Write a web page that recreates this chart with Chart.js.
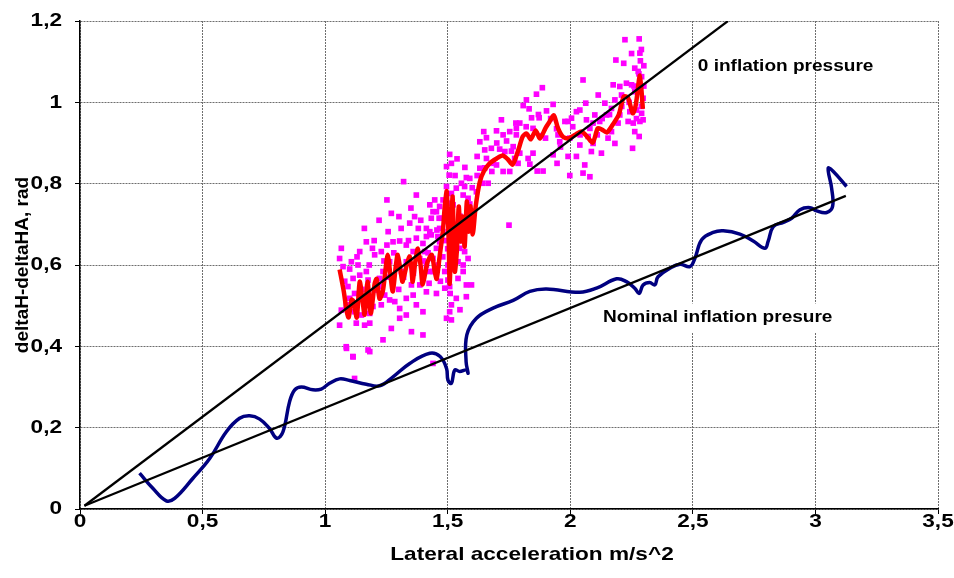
<!DOCTYPE html>
<html>
<head>
<meta charset="utf-8">
<script src="https://cdn.jsdelivr.net/npm/chart.js@4.4.1/dist/chart.umd.min.js"></script>
<style>
  html, body { margin: 0; padding: 0; background: #fff; }
  #wrap { width: 954px; height: 578px; }
</style>
</head>
<body>
<div id="wrap"><canvas id="chart" width="954" height="578"></canvas></div>
<script>
// 坐标刻度
const xTicks = [0, 0.5, 1, 1.5, 2, 2.5, 3, 3.5];
const yTicks = [0, 0.2, 0.4, 0.6, 0.8, 1, 1.2];

// 两条参考直线 (起点, 终点)
const zeroPressureLine = [[0.018, 0.008], [2.643, 1.2]];
const nominalLine = [[0.018, 0.008], [3.124, 0.77]];

// 额定气压下的测量曲线
const nominalCurve = [
  [0.243, 0.088], [0.297, 0.051], [0.352, 0.020], [0.386, 0.026], [0.460, 0.075],
  [0.529, 0.124], [0.597, 0.190], [0.651, 0.223], [0.692, 0.229], [0.733, 0.221],
  [0.773, 0.198], [0.803, 0.174], [0.828, 0.190], [0.855, 0.264], [0.876, 0.293],
  [0.903, 0.300], [0.950, 0.293], [0.984, 0.295], [1.018, 0.309], [1.059, 0.320],
  [1.100, 0.316], [1.168, 0.307], [1.222, 0.303], [1.277, 0.325], [1.345, 0.358],
  [1.427, 0.383], [1.469, 0.375], [1.495, 0.346], [1.501, 0.317], [1.515, 0.309],
  [1.529, 0.342], [1.549, 0.338], [1.576, 0.342], [1.583, 0.334], [1.575, 0.362],
  [1.578, 0.428], [1.617, 0.469], [1.685, 0.494], [1.767, 0.513], [1.835, 0.535],
  [1.903, 0.541], [2.039, 0.533], [2.107, 0.543], [2.189, 0.566], [2.229, 0.559],
  [2.263, 0.543], [2.281, 0.530], [2.297, 0.551], [2.324, 0.557], [2.345, 0.551],
  [2.358, 0.571], [2.406, 0.592], [2.447, 0.602], [2.488, 0.596], [2.508, 0.616],
  [2.536, 0.662], [2.583, 0.680], [2.624, 0.684], [2.692, 0.676], [2.746, 0.659],
  [2.794, 0.641], [2.807, 0.658], [2.828, 0.694], [2.869, 0.705], [2.903, 0.715],
  [2.937, 0.736], [2.978, 0.741], [3.005, 0.733], [3.046, 0.729], [3.070, 0.744],
  [3.066, 0.789], [3.052, 0.838], [3.073, 0.830], [3.127, 0.793]
];

// 零气压下的平滑曲线
const zeroCurve = [
  [1.059, 0.589], [1.076, 0.535], [1.088, 0.486], [1.096, 0.471], [1.108, 0.515],
  [1.116, 0.510], [1.129, 0.471], [1.141, 0.559], [1.153, 0.510], [1.161, 0.478],
  [1.173, 0.559], [1.186, 0.481], [1.202, 0.554], [1.210, 0.566], [1.222, 0.517],
  [1.235, 0.535], [1.243, 0.571], [1.255, 0.625], [1.267, 0.571], [1.276, 0.535],
  [1.288, 0.596], [1.296, 0.625], [1.308, 0.584], [1.316, 0.559], [1.333, 0.601],
  [1.345, 0.621], [1.353, 0.584], [1.357, 0.559], [1.369, 0.613], [1.378, 0.640],
  [1.390, 0.596], [1.398, 0.552], [1.418, 0.608], [1.435, 0.625], [1.447, 0.584],
  [1.455, 0.566], [1.467, 0.621], [1.480, 0.682], [1.488, 0.744], [1.496, 0.781],
  [1.504, 0.658], [1.508, 0.554], [1.516, 0.706], [1.520, 0.768], [1.529, 0.584],
  [1.537, 0.633], [1.545, 0.744], [1.553, 0.658], [1.561, 0.719], [1.569, 0.645],
  [1.578, 0.756], [1.586, 0.682], [1.594, 0.744], [1.602, 0.675], [1.614, 0.744],
  [1.631, 0.805], [1.647, 0.830], [1.671, 0.850], [1.700, 0.862], [1.724, 0.869],
  [1.745, 0.860], [1.765, 0.847], [1.786, 0.879], [1.806, 0.916], [1.822, 0.923],
  [1.839, 0.909], [1.859, 0.931], [1.876, 0.911], [1.900, 0.938], [1.916, 0.953],
  [1.933, 0.968], [1.949, 0.938], [1.969, 0.916], [1.990, 0.911], [2.022, 0.921],
  [2.047, 0.928], [2.071, 0.914], [2.092, 0.901], [2.112, 0.936], [2.129, 0.933],
  [2.149, 0.926], [2.173, 0.945], [2.198, 0.970], [2.218, 1.014], [2.235, 1.012],
  [2.255, 0.973], [2.267, 0.993], [2.284, 1.066], [2.296, 0.984]
];

// 零气压下的原始测量点
const zeroPoints = [
  [2.223, 1.154], [2.281, 1.156], [2.186, 1.104], [2.218, 1.096], [2.284, 1.121],
  [2.286, 1.102], [2.263, 1.084], [2.277, 1.076], [2.291, 1.063], [2.175, 1.043],
  [2.202, 1.039], [2.229, 1.047], [2.250, 1.043], [2.263, 1.026], [2.284, 1.026],
  [2.297, 1.010], [2.209, 1.018], [2.182, 1.006], [2.168, 0.985], [2.202, 0.969],
  [2.243, 0.977], [2.270, 0.981], [2.291, 0.973], [2.297, 0.957], [2.236, 0.953],
  [2.257, 0.949], [2.284, 0.953], [2.195, 0.949], [2.263, 0.928], [2.281, 0.916],
  [2.254, 0.887], [2.114, 1.018], [2.141, 0.998], [2.148, 0.969], [2.120, 0.953],
  [2.168, 0.928], [2.182, 0.899], [2.154, 0.912], [2.100, 0.969], [2.093, 0.949],
  [2.066, 0.957], [2.052, 1.055], [2.063, 0.998], [2.039, 0.981], [2.025, 0.977],
  [2.005, 0.961], [1.991, 0.953], [2.080, 0.936], [2.073, 0.916], [2.093, 0.899],
  [2.127, 0.875], [2.086, 0.879], [2.039, 0.895], [1.998, 0.912], [1.957, 0.903],
  [1.978, 0.953], [1.950, 0.920], [1.991, 0.867], [2.025, 0.867], [2.059, 0.846],
  [2.052, 0.826], [2.080, 0.817], [1.998, 0.820], [1.946, 0.850], [1.930, 0.871],
  [1.886, 1.036], [1.862, 1.020], [1.808, 0.992], [1.821, 1.006], [1.832, 0.984],
  [1.930, 0.995], [1.903, 0.979], [1.873, 0.962], [1.842, 0.962], [1.794, 0.949],
  [1.778, 0.949], [1.719, 0.957], [1.699, 0.930], [1.740, 0.905], [1.647, 0.928],
  [1.631, 0.903], [1.658, 0.913], [1.651, 0.883], [1.678, 0.887], [1.712, 0.885],
  [1.726, 0.920], [1.753, 0.928], [1.780, 0.936], [1.767, 0.891], [1.733, 0.879],
  [1.773, 0.862], [1.794, 0.875], [1.828, 0.862], [1.848, 0.875], [1.835, 0.848],
  [1.865, 0.831], [1.889, 0.831], [1.848, 0.936], [1.876, 0.918], [1.899, 0.912],
  [1.944, 0.935], [1.780, 0.920], [1.620, 0.867], [1.631, 0.838], [1.658, 0.862],
  [1.685, 0.850], [1.651, 0.839], [1.699, 0.846], [1.726, 0.830], [1.753, 0.830],
  [1.787, 0.850], [1.665, 0.801], [1.642, 0.801], [1.617, 0.780], [1.750, 0.698],
  [1.508, 0.872], [1.538, 0.861], [1.515, 0.850], [1.495, 0.842], [1.506, 0.821],
  [1.495, 0.793], [1.576, 0.815], [1.556, 0.801], [1.590, 0.813], [1.569, 0.793],
  [1.535, 0.789], [1.563, 0.772], [1.583, 0.764], [1.515, 0.776], [1.501, 0.752],
  [1.522, 0.748], [1.481, 0.760], [1.467, 0.744], [1.454, 0.731], [1.474, 0.715],
  [1.495, 0.707], [1.467, 0.690], [1.501, 0.682], [1.522, 0.666], [1.535, 0.653],
  [1.549, 0.641], [1.569, 0.633], [1.583, 0.616], [1.563, 0.600], [1.542, 0.608],
  [1.522, 0.625], [1.501, 0.600], [1.488, 0.584], [1.501, 0.563], [1.508, 0.547],
  [1.542, 0.567], [1.563, 0.584], [1.576, 0.551], [1.597, 0.551], [1.576, 0.522],
  [1.535, 0.518], [1.515, 0.502], [1.508, 0.485], [1.495, 0.469], [1.515, 0.465],
  [1.488, 0.543], [1.454, 0.530], [1.424, 0.555], [1.440, 0.584], [1.461, 0.600],
  [1.440, 0.616], [1.454, 0.641], [1.433, 0.674], [1.456, 0.686], [1.465, 0.715],
  [1.433, 0.715], [1.413, 0.690], [1.447, 0.760], [1.427, 0.748], [1.440, 0.731],
  [1.467, 0.657], [1.066, 0.641], [1.059, 0.616], [1.073, 0.596], [1.107, 0.608],
  [1.134, 0.600], [1.141, 0.633], [1.168, 0.657], [1.193, 0.641], [1.202, 0.625],
  [1.229, 0.633], [1.257, 0.682], [1.270, 0.727], [1.252, 0.760], [1.301, 0.719],
  [1.320, 0.805], [1.365, 0.719], [1.345, 0.703], [1.372, 0.772], [1.277, 0.657],
  [1.252, 0.649], [1.304, 0.659], [1.331, 0.649], [1.359, 0.633], [1.372, 0.666],
  [1.399, 0.653], [1.413, 0.670], [1.427, 0.682], [1.406, 0.633], [1.386, 0.616],
  [1.413, 0.600], [1.427, 0.584], [1.359, 0.600], [1.331, 0.608], [1.311, 0.584],
  [1.297, 0.600], [1.263, 0.608], [1.236, 0.584], [1.222, 0.567], [1.175, 0.563],
  [1.168, 0.584], [1.141, 0.575], [1.114, 0.567], [1.093, 0.547], [1.100, 0.518],
  [1.066, 0.489], [1.059, 0.452], [1.086, 0.502], [1.120, 0.485], [1.148, 0.477],
  [1.182, 0.481], [1.195, 0.498], [1.229, 0.502], [1.263, 0.514], [1.243, 0.526],
  [1.284, 0.510], [1.304, 0.493], [1.331, 0.518], [1.359, 0.526], [1.372, 0.502],
  [1.399, 0.485], [1.352, 0.551], [1.386, 0.551], [1.413, 0.534], [1.331, 0.477],
  [1.352, 0.436], [1.399, 0.428], [1.304, 0.469], [1.270, 0.444], [1.236, 0.416],
  [1.182, 0.457], [1.161, 0.452], [1.127, 0.457], [1.086, 0.399], [1.114, 0.374],
  [1.182, 0.387], [1.120, 0.321], [1.222, 0.547], [1.175, 0.526], [1.202, 0.538],
  [1.087, 0.395], [1.113, 0.375], [1.175, 0.391], [1.440, 0.358],
  [1.470, 0.560], [1.480, 0.620], [1.490, 0.660], [1.520, 0.590], [1.530, 0.700],
  [1.550, 0.720], [1.560, 0.660], [1.580, 0.690], [1.590, 0.750], [1.600, 0.790],
  [1.570, 0.840], [1.530, 0.820], [1.500, 0.640], [1.460, 0.670], [1.510, 0.530],
  [1.550, 0.490], [1.080, 0.560], [1.100, 0.590], [1.130, 0.620], [1.150, 0.540],
  [1.180, 0.600], [1.200, 0.660], [1.240, 0.610], [1.260, 0.570], [1.280, 0.630],
  [1.300, 0.540], [1.320, 0.570], [1.340, 0.660], [1.360, 0.580], [1.380, 0.690],
  [1.400, 0.610], [1.420, 0.630], [1.390, 0.710], [1.350, 0.740], [1.310, 0.690],
  [1.220, 0.710], [1.160, 0.690], [1.120, 0.530], [2.240, 1.000], [2.260, 1.040],
  [2.280, 1.070], [2.300, 1.040], [2.290, 0.990], [2.210, 0.990], [2.270, 0.960],
  [2.300, 1.090], [2.250, 1.120], [2.290, 1.130], [1.960, 0.890], [2.010, 0.940],
  [2.040, 0.920], [2.110, 0.920], [2.130, 0.960], [2.160, 0.970], [1.920, 0.960],
  [1.870, 0.970], [1.820, 0.940], [1.760, 0.880], [1.700, 0.900], [1.680, 0.830],
  [1.620, 0.820]
];

// 曲线旁的文字标注: [文字, x, y, 是否带白底]
const notes = [
  ['0 inflation pressure', 2.52, 1.088, false],
  ['Nominal inflation presure', 2.133, 0.471, true]
];

const FONT = '"Liberation Sans", Arial, sans-serif';
const STRETCH = 1.19;   // 横向文字略宽
const toXY = arr => arr.map(p => ({ x: p[0], y: p[1] }));
const fmt = v => (Number.isInteger(v) ? String(v) : v.toFixed(1).replace('.', ','));

// 横向拉宽后写字
function wideText(ctx, text, x, y, align, font) {
  ctx.save();
  ctx.font = font;
  ctx.textAlign = align;
  ctx.textBaseline = 'middle';
  ctx.translate(x, y);
  ctx.scale(STRETCH, 1);
  ctx.fillText(text, 0, 0);
  ctx.restore();
}

// 刻度文字、横轴标题和标注
const textPlugin = {
  id: 'wideText',
  afterDatasetsDraw(chart) {
    const { ctx, scales, chartArea } = chart;
    const tickFont = 'bold 19px ' + FONT;
    ctx.save();
    ctx.fillStyle = '#000';
    xTicks.forEach(v => wideText(ctx, fmt(v), scales.x.getPixelForValue(v), chartArea.bottom + 13, 'center', tickFont));
    yTicks.forEach(v => wideText(ctx, fmt(v), chartArea.left - 18, scales.y.getPixelForValue(v), 'right', tickFont));
    wideText(ctx, 'Lateral acceleration m/s^2', 532, chartArea.bottom + 46, 'center', tickFont);

    const noteFont = 'bold 16px ' + FONT;
    notes.forEach(([text, x, y, boxed]) => {
      const px = scales.x.getPixelForValue(x);
      const py = scales.y.getPixelForValue(y);
      if (boxed) {
        ctx.font = noteFont;
        const w = ctx.measureText(text).width * STRETCH;
        ctx.fillStyle = '#fff';
        ctx.fillRect(px - 4, py - 14, w + 8, 29);
      }
      ctx.fillStyle = '#000';
      wideText(ctx, text, px, py, 'left', noteFont);
    });
    ctx.restore();
  }
};

const chart = new Chart(document.getElementById('chart').getContext('2d'), {
  type: 'scatter',
  data: {
    datasets: [
      {
        data: toXY(zeroPressureLine), showLine: true, borderColor: '#000', borderWidth: 2.2,
        pointRadius: 0, tension: 0
      },
      {
        data: toXY(nominalLine), showLine: true, borderColor: '#000', borderWidth: 2.2,
        pointRadius: 0, tension: 0
      },
      {
        data: toXY(nominalCurve), showLine: true, borderColor: '#000080', borderWidth: 3.5,
        pointRadius: 0, tension: 0.4
      },
      {
        data: toXY(zeroCurve), showLine: true, borderColor: '#ff0000', borderWidth: 4.5,
        pointRadius: 0, tension: 0.25
      },
      {
        data: toXY(zeroPoints), showLine: false, pointStyle: 'rect', pointRadius: 4,
        backgroundColor: '#ff00ff', borderWidth: 0
      }
    ]
  },
  options: {
    responsive: false,
    animation: false,
    events: [],
    layout: { padding: { left: 0, right: 16, top: 21, bottom: 0 } },
    plugins: { legend: { display: false }, tooltip: { enabled: false } },
    scales: {
      x: {
        type: 'linear', min: 0, max: 3.5,
        afterBuildTicks: s => { s.ticks = xTicks.map(v => ({ value: v })); },
        afterFit: s => { s.height = 69; },
        grid: { color: '#6e6e6e', lineWidth: 1, tickLength: 5, tickColor: '#000' },
        border: { color: '#000', width: 1.5, dash: [2, 1] },
        ticks: { color: 'rgba(0,0,0,0)', autoSkip: false, maxRotation: 0 }
      },
      y: {
        type: 'linear', min: 0, max: 1.2,
        afterBuildTicks: s => { s.ticks = yTicks.map(v => ({ value: v })); },
        afterFit: s => { s.width = 80; },
        grid: { color: '#6e6e6e', lineWidth: 1, tickLength: 5, tickColor: '#000' },
        border: { color: '#000', width: 1.5, dash: [2, 1] },
        ticks: { color: 'rgba(0,0,0,0)', autoSkip: false },
        title: {
          display: true, text: 'deltaH-deltaHA, rad', color: '#000',
          font: { family: FONT, size: 19, weight: 'bold' }, padding: { top: 11, bottom: 0 }
        }
      }
    }
  },
  plugins: [textPlugin]
});
</script>
</body>
</html>
